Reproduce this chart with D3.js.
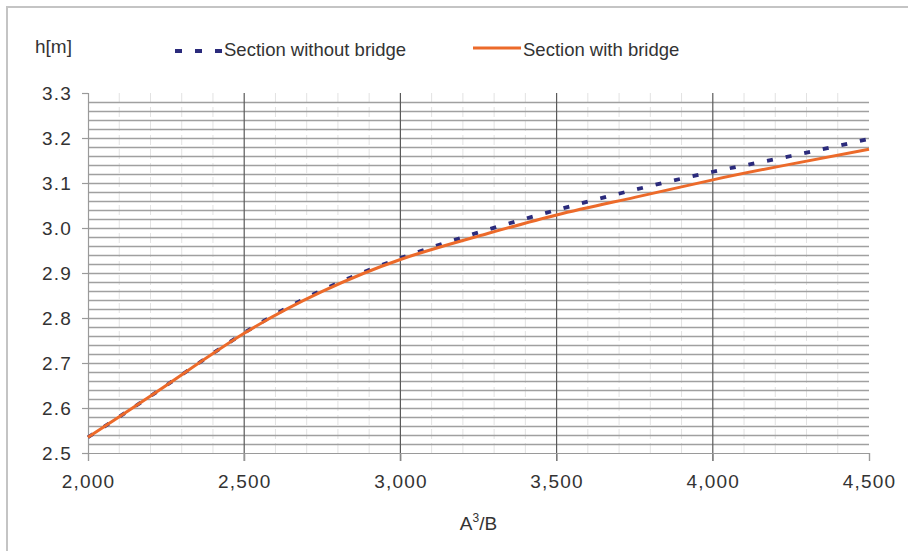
<!DOCTYPE html>
<html>
<head>
<meta charset="utf-8">
<script src="https://cdn.jsdelivr.net/npm/d3@7"></script>
<style>
  body { margin: 0; background: #fff; }
  svg { display: block; font-family: "Liberation Sans", Arial, sans-serif; }
</style>
</head>
<body>
<div id="chart"></div>
<script>
// A^3/B values
const xValues = [2000, 2250, 2500, 2750, 3000, 3250, 3500, 3750, 4000, 4250, 4500];
// h[m] for each section
const withoutBridge = [2.535, 2.650, 2.767, 2.862, 2.933, 2.990, 3.040, 3.085, 3.125, 3.160, 3.198];
const withBridge    = [2.535, 2.650, 2.766, 2.859, 2.930, 2.982, 3.029, 3.068, 3.107, 3.142, 3.175];
const xTicks = [2000, 2500, 3000, 3500, 4000, 4500];
const yTicks = [2.5, 2.6, 2.7, 2.8, 2.9, 3.0, 3.1, 3.2, 3.3];

const width = 908;
const height = 551;

const svg = d3.select("#chart")
  .append("svg")
  .attr("width", width)
  .attr("height", height);

//frame
svg.append("path")
  .attr("d", `M7,${height} L7,7 L${width},7`)
  .attr("fill", "none")
  .attr("stroke", "#c4c4c4")
  .attr("stroke-width", 2);

const x = d3.scaleLinear().domain([2000, 4500]).range([88, 869]);
const y = d3.scaleLinear().domain([2.5, 3.3]).range([453, 93]);

//minor vertical grid (every 100)
svg.append("g")
  .selectAll("line")
  .data(d3.range(2100, 4500, 100).filter(v => v % 500 !== 0))
  .join("line")
  .attr("x1", d => x(d)).attr("x2", d => x(d))
  .attr("y1", y(3.3)).attr("y2", y(2.5))
  .attr("stroke", "#e2e2e2")
  .attr("stroke-width", 1)
  .attr("stroke-dasharray", "10,4");

//horizontal grid (every 0.02)
svg.append("g")
  .selectAll("line")
  .data(d3.range(2.52, 3.29, 0.02))
  .join("line")
  .attr("x1", x(2000)).attr("x2", x(4500))
  .attr("y1", d => Math.round(y(d)) + 0.5).attr("y2", d => Math.round(y(d)) + 0.5)
  .attr("stroke", "#a0a0a0")
  .attr("stroke-width", 1.7);

//major vertical grid
svg.append("g")
  .selectAll("line")
  .data([2500, 3000, 3500, 4000])
  .join("line")
  .attr("x1", d => x(d)).attr("x2", d => x(d))
  .attr("y1", y(3.3)).attr("y2", y(2.5) + 8)
  .attr("stroke", "#5a5a5a")
  .attr("stroke-width", 1.2);

//axes
const xAxis = d3.axisBottom(x).tickValues(xTicks).tickFormat(d3.format(",")).tickSize(8).tickPadding(14);
const yAxis = d3.axisLeft(y).tickValues(yTicks).tickFormat(d3.format(".1f")).tickSize(6).tickPadding(10);

const gx = svg.append("g")
  .attr("transform", `translate(0,${y(2.5)})`)
  .call(xAxis);
const gy = svg.append("g")
  .attr("transform", `translate(${x(2000)},0)`)
  .call(yAxis);

[gx, gy].forEach(g => {
  g.select(".domain").attr("stroke", "#9a9a9a").attr("stroke-width", 1.2);
  g.selectAll(".tick line").attr("stroke", "#9a9a9a").attr("stroke-width", 1.2);
  g.selectAll("text")
    .attr("fill", "#333")
    .style("font-size", "19px")
    .style("letter-spacing", "1.2px")
    .style("font-family", "'Liberation Sans', Arial, sans-serif");
});
gy.selectAll("text").attr("dy", "0.36em");

//lines
const line = d3.line()
  .x((d, i) => x(xValues[i]))
  .y(d => y(d))
  .curve(d3.curveNatural);

svg.append("path")
  .datum(withoutBridge)
  .attr("d", line)
  .attr("fill", "none")
  .attr("stroke", "#2b2b7c")
  .attr("stroke-width", 3.8)
  .attr("stroke-dasharray", "6,13");

svg.append("path")
  .datum(withBridge)
  .attr("d", line)
  .attr("fill", "none")
  .attr("stroke", "#ec6a2a")
  .attr("stroke-width", 3);

//titles
svg.append("text")
  .attr("x", 35).attr("y", 53)
  .attr("fill", "#333")
  .style("font-size", "19px")
  .text("h[m]");

const xt = svg.append("text")
  .attr("x", (x(2000) + x(4500)) / 2).attr("y", 530)
  .attr("text-anchor", "middle")
  .attr("fill", "#333")
  .style("font-size", "19px");
xt.append("tspan").text("A");
xt.append("tspan").attr("dy", -8).style("font-size", "12px").text("3");
xt.append("tspan").attr("dy", 8).text("/B");

//Legend
const legend = svg.append("g");
legend.append("line")
  .attr("x1", 175).attr("x2", 222).attr("y1", 51).attr("y2", 51)
  .attr("stroke", "#2b2b7c").attr("stroke-width", 3.8)
  .attr("stroke-dasharray", "7,13");
legend.append("text")
  .attr("x", 224).attr("y", 56)
  .attr("fill", "#333")
  .style("font-size", "18.5px")
  .text("Section without bridge");
legend.append("line")
  .attr("x1", 473).attr("x2", 521).attr("y1", 48).attr("y2", 48)
  .attr("stroke", "#ec6a2a").attr("stroke-width", 3);
legend.append("text")
  .attr("x", 523).attr("y", 56)
  .attr("fill", "#333")
  .style("font-size", "18.5px")
  .text("Section with bridge");
</script>
</body>
</html>
